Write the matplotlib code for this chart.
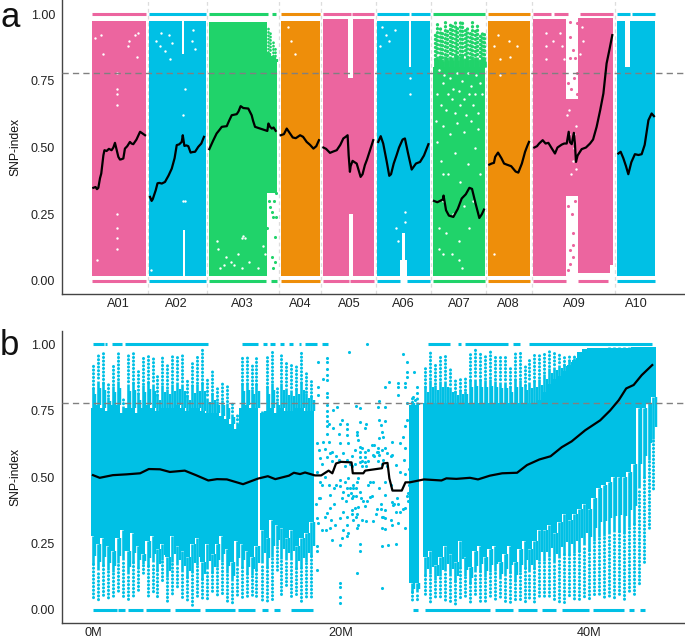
import numpy as np
import matplotlib
matplotlib.use("Agg")
import matplotlib.pyplot as plt

plt.rcParams['font.family'] = ['Liberation Sans', 'DejaVu Sans']

PINK, BLUE, GREEN, ORANGE = '#EC659F', '#00C0E5', '#20D36A', '#EE8E0A'
THRESHOLD = 0.778

# ---------- panel a: genome-wide ----------
chrom_names = ['A01', 'A02', 'A03', 'A04', 'A05', 'A06', 'A07', 'A08', 'A09', 'A10']
chrom_centres = [14.6, 47.2, 84.3, 117, 144.6, 174.9, 206.3, 233.7, 270.8, 305.6]
chrom_breaks = [31.3, 64.6, 104.9, 128.8, 159.3, 190.5, 221.5, 247, 293.8]

cloud_colour = [PINK, BLUE, BLUE, BLUE, BLUE, BLUE, GREEN, GREEN, ORANGE,
                PINK, PINK, PINK, PINK,
                BLUE, BLUE, BLUE, BLUE, BLUE, BLUE, BLUE,
                GREEN, ORANGE, PINK, PINK, PINK, PINK,
                BLUE, BLUE, BLUE]
cloud_start = [0.2, 32, 50.5, 51, 51.7, 52.4, 65.7, 98.1, 106,
               130, 144, 144.5, 146.4,
               160.3, 173, 174, 175.8, 176.8, 178.1, 179.2,
               191.7, 222.6, 248, 266.3, 273.2, 291,
               294.8, 299.4, 302.3]
cloud_end = [30.2, 50.5, 51, 51.7, 52.4, 63.9, 98.1, 103.8, 128.1,
             144, 144.5, 146.4, 158.6,
             173, 174, 175.8, 176.8, 178.1, 179.2, 189.9,
             220.8, 246.1, 266.3, 273.2, 291, 292.9,
             299.4, 302.3, 316.3]
cloud_top = [.975, .975, .85, .85, .975, .975, .97, .82, .975,
             .98, .76, .76, .98,
             .975, .975, .975, .975, .975, .80, .975,
             .80, .975, .98, .68, .985, .985,
             .975, .80, .975]
cloud_low = [.02, .02, .02, .19, .19, .02, .02, .33, .02,
             .02, .02, .25, .02,
             .02, .08, .18, .08, .02, .02, .02,
             .02, .02, .02, .32, .03, .06,
             .02, .02, .02]

top_strip_colour = [PINK, BLUE, GREEN, GREEN, ORANGE, PINK, PINK, BLUE, BLUE, GREEN, ORANGE,
                    PINK, PINK, PINK, BLUE, BLUE]
top_strip_start = [.2, 32.1, 65.7, 101, 106, 130, 146.2, 160.3, 179.2, 191.7, 222.6,
                   248, 259.5, 274.2, 294.8, 303.2]
top_strip_end = [30.2, 63.9, 99, 103.6, 128.1, 145.5, 158.6, 178.3, 189.9, 220.8, 246.1,
                 257.9, 267.6, 292.9, 302, 316.3]
low_strip_colour = [PINK, BLUE, GREEN, GREEN, ORANGE, PINK, PINK, BLUE, BLUE, GREEN, ORANGE,
                    PINK, PINK, BLUE]
low_strip_start = [.2, 32.1, 65.7, 100.7, 106, 130, 145, 160.3, 176.8, 191.7, 222.6,
                   248, 273.2, 294.8]
low_strip_end = [30.2, 63.9, 97.7, 103.8, 128.1, 144.5, 158.6, 173, 189.9, 220.8, 246.1,
                 266.3, 290, 316.3]

a07_x = [192.5, 193.9, 195.3, 196.7, 198.1, 199.5, 200.9, 202.3, 203.7, 205.1, 206.5,
         207.9, 209.3, 210.7, 212.1, 213.5, 214.9, 216.3, 217.7, 219.1, 220.3]
a07_top = [.93, .97, .96, .93, .97, .95, .97, .96, .98, .95, .97,
           .98, .94, .96, .93, .97, .95, .96, .92, .94, .93]

a03_x = [98.8, 100.2, 101.6, 103.0]
a03_top = [.95, .93, .90, .88]
a03_x_pts = [101.9, 100, 103.4, 102.8, 101, 102.8, 101.9, 98.1, 102.3, 99.6, 103.6, 101.2]
a03_y_pts = [.24, .2775, .24, .165, .09, .07, .05, .20, .30, .30, .33, .26]

a09_x_pts = [268.5, 272.3, 268.5, 270.3, 271.3, 268.5, 272.6, 267.4, 270.4, 268.5, 270.4, 268.5, 267.6, 270.4,
             269, 271, 272.4, 267.6, 269.5, 271.6]
a09_y_pts = [.97, .965, .915, .865, .835, .835, .78, .74, .18, .115, .09, .065, .04, .135,
             .72, .76, .70, .28, .25, .30]

# places inside the clouds where there are no SNPs
hole_x = [1.5, 5, 6, 13.8, 14, 14, 14, 14, 14.2, 20, 21, 24, 25, 26, 3, 13.9, 13.9,
          36, 38, 39, 41, 43, 44, 45, 56, 58, 57, 51, 51, 52, 33, 52,
          71, 75, 78, 84, 85, 86, 96, 97, 72, 74, 80, 84, 88, 93, 70, 82,
          110, 112, 114, 226, 228, 229, 229, 234, 235, 239, 226,
          163, 165, 167, 170, 162, 178.6, 178.6, 171, 172, 176, 176,
          255, 255, 255, 259, 263, 264, 265, 275, 276, 274, 267, 268, 271, 272, 270, 269, 271, 268, 272,
          195, 197, 198, 200, 201, 203, 205, 206, 208, 209, 211, 213, 215, 216, 218,
          194, 196, 199, 202, 204, 207, 210, 212, 214, 217, 219, 193, 197, 201, 205, 209, 213, 217,
          194, 196, 200, 204, 207, 211, 215, 218, 197, 203, 209, 214, 199, 206, 212, 195, 197, 195, 197, 202, 206, 208]
hole_y = [.91, .92, .85, .78, .70, .66, .72, .25, .20, .88, .90, .92, .84, .93, .08, .16, .12,
          .90, .88, .93, .86, .92, .83, .89, .90, .87, .94, .62, .30, .30, .04, .72,
          .12, .09, .07, .16, .17, .16, .13, .10, .05, .06, .06, .05, .07, .05, .15, .10,
          .95, .90, .85, .88, .92, .83, .77, .90, .84, .88, .10,
          .95, .92, .90, .94, .88, .76, .70, .20, .15, .22, .26,
          .93, .88, .83, .90, .93, .88, .83, .95, .90, .85, .62, .55, .50, .58, .45, .40, .55, .64, .42,
          .79, .74, .77, .70, .76, .72, .78, .71, .75, .68, .78, .73, .70, .77, .74,
          .70, .66, .64, .68, .63, .66, .62, .70, .66, .63, .70, .60, .58, .55, .59, .56, .60, .57,
          .52, .45, .40, .48, .37, .44, .50, .40, .30, .25, .28, .30, .18, .15, .20, .12, .40, .20, .10, .10, .08, .05]

line_x = [
 [.74, 2, 2.8, 3.55, 4.5, 5.2, 6.4, 7, 8.2, 9.5, 11, 12, 12.9, 13.9, 14.8, 15.7, 16.5, 17.6, 18.5, 19.8, 21.3, 22.2, 23.2, 25, 27, 28.5, 29.8],
 [32.6, 33.5, 34.1, 35.8, 36.8, 37.8, 39.2, 41, 43, 44.8, 46.4, 47.6, 49, 50.4, 51, 51.9, 53, 54.1, 55.4, 56.5, 57.9, 59.7, 61.4, 62.9],
 [65.9, 68, 70, 71.5, 72.9, 75.7, 77, 78.5, 81.3, 82.3, 83.5, 85, 87.8, 89.7, 90.5, 91.6, 94, 97.2, 98.5, 99.1, 100, 101, 102, 103.2],
 [106, 107.8, 109.4, 111, 112.8, 114.5, 116.9, 118.6, 120.6, 122.5, 124.4, 126, 127.5],
 [130, 131.5, 133.7, 135.5, 137.5, 139.5, 141.2, 142.5, 143.6, 144.2, 144.9, 145.3, 146.4, 147.5, 148.7, 150.9, 152, 153.3, 154.5, 156.2, 158],
 [160.8, 162.2, 163.6, 165.5, 167, 168, 169.5, 171.1, 172.5, 174.5, 175.8, 177.5, 179.6, 182, 184.3, 186.5, 189],
 [192.1, 194, 195.5, 197.2, 197.5, 198.9, 200.5, 203, 205.5, 207.7, 210, 212, 213.5, 215.5, 217.6, 219, 220.2],
 [223.2, 224.5, 225.8, 226.5, 228.1, 230, 231.5, 233, 235.5, 238, 239.5, 241.5, 243.3, 244.5, 245.5],
 [248.5, 250, 251.2, 253.2, 254.8, 256.4, 258, 260.1, 261.5, 263.9, 265.3, 266.7, 267.8, 268.5, 269.5, 270.7, 271.3, 271.9, 272.8, 275.1, 277.5, 279.8, 281.5, 283.5, 285.5, 287.3, 289.1, 290.8, 292.3],
 [295.7, 297, 298.5, 300, 301.3, 303, 305, 307, 308.8, 310.5, 312.6, 314.4, 315.7],
]
line_y = [
 [.349, .352, .344, .349, .385, .4025, .471, .49, .487, .495, .49, .50, .5175, .49, .465, .455, .456, .459, .496, .505, .521, .515, .5125, .53, .559, .552, .546],
 [.315, .30, .306, .34, .366, .3675, .365, .371, .395, .421, .46, .509, .512, .521, .546, .506, .508, .505, .481, .483, .484, .5025, .515, .54],
 [.494, .525, .5525, .565, .5775, .58, .60, .621, .625, .635, .655, .648, .646, .621, .60, .5775, .572, .565, .562, .59, .578, .571, .575, .5625],
 [.546, .55, .571, .555, .5375, .535, .546, .54, .521, .51, .496, .505, .5275],
 [.50, .495, .48, .485, .49, .51, .534, .54, .546, .47, .409, .43, .45, .445, .44, .39, .40, .434, .455, .49, .5275],
 [.521, .5425, .515, .45, .394, .40, .44, .471, .50, .53, .534, .48, .4175, .44, .446, .47, .5125],
 [.30, .295, .30, .306, .32, .265, .245, .24, .27, .309, .325, .349, .345, .29, .236, .25, .2675],
 [.436, .44, .4425, .465, .481, .46, .44, .436, .43, .41, .406, .44, .484, .505, .521],
 [.50, .505, .515, .5275, .515, .5175, .50, .4775, .50, .511, .515, .515, .559, .52, .5125, .555, .515, .446, .47, .494, .50, .515, .53, .5775, .64, .7025, .815, .87, .921],
 [.4775, .484, .46, .43, .40, .445, .475, .472, .475, .51, .6025, .6275, .6175],
]

# ---------- panel b: A09 ----------
left_x = [round(0.4 * i, 1) for i in range(33)] + [13.15, 13.65] + [round(14 + 0.4 * i, 1) for i in range(10)]
left_w = [.4] * 33 + [.3, .3] + [.4] * 10
left_core_top = [.76, .77, .76, .75, .77, .77, .74, .76, .76, .74, .76, .77, .76, .75, .76, .76, .76, .77, .76, .75,
                 .76, .76, .75, .74, .74, .74, .73, .72, .70, .68, .76, .77, .76, .76, .74, .75, .76, .74, .76, .75,
                 .75, .76, .76, .75, .75]
left_core_low = [.28, .25, .27, .24, .22, .27, .30, .22, .29, .24, .21, .26, .28, .23, .25, .20, .28, .24, .22, .20,
                 .25, .27, .18, .25, .21, .25, .28, .23, .18, .26, .25, .22, .20, .24, .30, .27, .34, .32, .31, .27,
                 .30, .24, .27, .29, .33]
left_comb_top = [.93, .97, .97, .86, .93, .97, .80, .96, .97, .90, .95, .96, .96, .88, .95, .92, .96, .96, .96, .87,
                 .94, .96, .98, .87, .90, .84, .86, .85, .78, .74, .96, .95, .92, .96, .76, .95, .97, .84, .97, .94,
                 .92, .92, .97, .90, .87]
left_comb_low = [.04, .03, .05, .04, .05, .06, .05, .03, .05, .07, .13, .05, .06, .05, .11, .03, .06, .08, .05, .03,
                 .02, .05, .04, .04, .06, .05, .06, .03, .02, .05, .05, .04, .05, .04, .03, .03, .03, .14, .05, .09,
                 .05, .06, .03, .05, .05]

right_x = [25.7, 26.1] + [round(26.8 + 0.4 * i, 1) for i in range(47)]
right_core_top = [.77, .77] + [.78] * 23 + [.79, .82, .85, .87, .88, .90, .92, .94, .97, .98, .985, .985, .985,
                                            .985, .985, .985, .985, .985, .985, .99, .99, .99, .99, .99]
right_core_low = [.10, .10, .20, .22, .17, .20, .24, .21, .18, .26, .20, .16, .22, .24, .20, .23, .24, .18, .21, .24, .18,
                  .23, .26, .23, .26, .30, .30, .32, .29, .33, .36, .34, .36, .38, .40, .38, .42, .46, .47, .48, .50,
                  .50, .50, .52, .55, .76, .76, .78, .80]
right_comb_top = [.80, .80, .91, .97, .93, .96, .96, .91, .87, .88, .88, .97, .98, .965, .965, .98, .96, .95, .95, .91, .97,
                  .97, .93, .95, .96, .965, .97, .98, .97, .97, .95, .96, .96, .97, .965, .985,
                  .985, .985, .985, .99, .99, .99, .99, .99, .99, .99, .99, .99, .99]
right_comb_low = [.03, .03, .05, .03, .04, .04, .03, .03, .02, .04, .04, .03, .05, .03, .03, .04, .03, .04, .03, .02, .03,
                  .04, .03, .04, .03, .04, .04, .05, .04, .03, .03, .05, .04, .03, .05, .04, .06, .05, .04, .05, .04,
                  .05, .04, .06, .05, .09, .18, .30, .45]

b_top_start = [0, 1, 1.5, 2.6, 12, 13.7, 14.3, 15.1, 15.8, 16.6, 17.1, 18.5, 27.04, 29.47, 30, 33.9, 34.8, 35.2]
b_top_end = [.85, 1.1, 2.3, 9.3, 13.3, 14, 14.7, 15.4, 16.1, 16.8, 18.1, 18.95, 28.8, 29.7, 33.5, 34.4, 34.85, 45.05]
b_low_start = [0, 2.05, 2.85, 4.3, 6.6, 9, 11.7, 13.6, 14.6, 16, 25.8, 26.8, 32.4, 34.3, 36.2, 37.8, 40.3, 43.2, 44.1]
b_low_end = [1.9, 2.6, 4.05, 6.2, 8.6, 11.45, 13.05, 14.15, 15.1, 17.75, 26.2, 32, 33.9, 35.8, 37.3, 40, 42.8, 43.6, 44.5]

sparse_x = [20.67, 24.97, 25.3, 25.3, 25.3, 25.9, 18.85, 18.85, 18.85, 18.85, 18.85, 18.85, 18.85, 18.85, 18.85, 18.85, 18.85, 18.85, 18.85,
            18.57, 18.17, 18.12, 18.12, 24.6, 24.6, 24.6, 25.2, 25.2, 23.87, 23.55, 26.1, 25.8, 26.1, 26,
            23.1, 22.97, 23.55, 21.2, 21.5, 25.3, 19.65, 19.37,
            20.05, 19.9, 20.5, 20.5, 21.5, 21.3, 22, 21.9, 23.1, 23.55, 23.2, 23.3, 25.3, 25.15, 19, 19.37, 19.8, 20.45,
            21.3, 21.35, 18.05, 18.2, 18.57, 19, 19.9, 20.6, 21.5, 21.1, 22.5, 23.1, 23.4, 23.55, 24.1, 24.75, 25, 25.15, 23, 19.25, 18.7,
            21.5, 21.5, 21.5, 21.9, 21.9, 21.9, 22, 20.2, 20.45, 18.3, 18.85, 19.15, 22.6, 22.9, 23.1, 23.4, 24.1, 24.4, 25.05, 25.6, 19.8, 21.1,
            18.05, 18.7, 19.9, 20.6, 21.4, 22.3, 22.6, 23.55, 24.75, 25.15,
            19.9, 20.2, 20.6, 20.85, 21.25, 21.5, 21, 20.45, 19.15, 19.4, 18.2, 22.3, 23.1, 23.55, 24.1, 24.5,
            18, 18.3, 19.4, 21.1, 21.4, 20.85, 23.2, 23.55, 24.2, 24.75, 25.15, 19.15, 18.9, 18.7, 19.9, 23.55, 23.3, 18.1, 18.15,
            20.45, 21.25, 21.4, 22, 22.6, 23.3, 23.55, 24.1, 24.6, 25.15, 20.2, 19.15, 20.05, 20.6, 20.45, 19.25, 19.9, 21.5, 21.5, 23.3, 23.8, 24.4,
            18.1, 18.1, 18.1, 21.25, 23.3, 19.9, 19.9, 19.9, 19.9, 22.07,
            21.7, 21.7, 21.7, 22.2, 22.2, 22.2, 22.7, 22.7, 23.0, 23.0, 23.3, 23.3, 23.7, 23.7, 24.0, 24.0,
            20.9, 20.9, 21.0, 21.2, 21.2, 20.3, 20.3, 20.7, 20.7, 19.6, 19.6, 19.3, 19.0, 18.5, 18.5, 18.3,
            21.6, 21.8, 21.0, 20.8, 20.4, 20.1, 21.9, 22.1, 22.5, 22.9, 23.2, 24.3, 24.6, 25.0, 25.4, 25.5, 25.5, 25.4,
            20.9, 21.2, 21.0, 20.5, 20.2, 21.3, 21.7, 19.5, 19.2, 18.8, 18.5, 22.8, 23.4, 24.0, 24.4, 25.3]
sparse_y = [.971, .961, .931, .896, .877, .893, .946, .931, .908, .885, .864, .815, .80, .77, .75, .73, .71, .69, .66,
            .87, .931, .84, .808, .852, .84, .808, .852, .84, .858, .84, .84, .80, .815, .79,
            .785, .765, .765, .768, .758, .777, .765, .753,
            .715, .70, .698, .679, .705, .67, .698, .684, .715, .711, .696, .67, .715, .69, .70, .684, .66, .658,
            .658, .639, .627, .60, .633, .633, .627, .627, .614, .60, .62, .645, .65, .61, .633, .627, .65, .61, .595, .595, .607,
            .595, .576, .558, .595, .576, .558, .54, .59, .564, .57, .576, .59, .583, .595, .583, .564, .583, .545, .564, .558, .564, .55,
            .52, .50, .49, .495, .495, .48, .48, .48, .52, .51,
            .465, .445, .432, .42, .48, .445, .457, .457, .432, .457, .42, .425, .457, .432, .407, .42,
            .40, .42, .40, .382, .388, .376, .40, .376, .395, .37, .382, .382, .363, .35, .347, .347, .35, .345, .326,
            .32, .307, .32, .333, .333, .307, .304, .32, .326, .307, .30, .309, .27, .29, .277, .263, .244, .247, .22, .24, .244, .248,
            .24, .22, .15, .14, .083, .10, .088, .05, .025, 1.0,
            .61, .56, .54, .60, .56, .47, .62, .58, .61, .56, .60, .55, .59, .54, .58, .47,
            .58, .54, .47, .46, .43, .54, .48, .55, .46, .58, .47, .56, .47, .55, .47, .48,
            .42, .41, .43, .44, .41, .42, .39, .41, .43, .38, .38, .40, .40, .38, .44, .53, .47, .41,
            .36, .35, .34, .35, .37, .36, .34, .32, .34, .30, .30, .36, .35, .34, .37, .43]

b_line_x = [0, .54, 1.6, 2.7, 3.8, 4.5, 5.4, 6.2, 7.4, 8.3, 9.3, 10, 10.8, 12.1, 13.3, 14.1, 14.7, 15.8, 16.2, 16.7, 17.1, 17.9,
            18.4, 19, 19.3, 19.4, 19.6, 20, 20.85, 20.95, 21.8, 21.95, 23.3, 23.4, 23.75, 23.9, 24.15, 24.9, 25.2, 25.55, 26.7,
            28.1, 28.5, 29.3, 30.4, 31.05, 32, 33, 34.2, 35, 36, 36.9, 37.8, 38.6, 39.7, 40.9, 41.7, 42.4, 43, 43.6, 44.25, 45.1]
b_line_y = [.507, .497, .507, .51, .514, .53, .529, .519, .524, .507, .487, .492, .491, .473, .494, .503, .492, .505, .516, .511, .517, .506,
            .506, .524, .514, .526, .551, .557, .555, .514, .514, .524, .533, .551, .553, .495, .449, .449, .48, .48, .491,
            .487, .495, .493, .497, .491, .505, .514, .516, .545, .566, .578, .612, .634, .676, .713, .75, .789, .833, .846, .883, .921]

# ---------- drawing ----------
fig = plt.figure(figsize=(6.85, 6.40), dpi=100)
W, H = 685.0, 640.0
ax_a = fig.add_axes([62 / W, (H - 294) / H, (685 - 62) / W, 294 / H])
ax_b = fig.add_axes([62 / W, (H - 623) / H, (685 - 62) / W, (623 - 331) / H])
DOTS = [(o, (0.05, 1.15)) for o in (0.0, 1.3, 2.3, 0.7, 3.1, 1.8, 0.3, 2.7, 1.1, 3.4, 2.0)]


def comb(ax, x, y0, y1, colour, lw=2.2, solid=0.45, side=0.2):
    """A column of SNPs: near-solid close to the cloud, separate dots to the tip."""
    x, y0, y1 = np.array(x), np.array(y0), np.array(y1)
    mid = y0 + (y1 - y0) * solid
    lc = ax.vlines(x, y0, mid, colors=colour, linewidths=lw * 0.85, zorder=2)
    lc2 = ax.vlines(x, mid, y1, colors=colour, linewidths=lw,
                    linestyles=[DOTS[i % len(DOTS)] for i in range(len(x))], zorder=2)
    lc2.set_capstyle('round')
    lc3 = ax.vlines(x + side, y0, y0 + (y1 - y0) * solid * 0.7, colors=colour, linewidths=lw * 0.8, zorder=2)


# panel a
for b in chrom_breaks:
    ax_a.axvline(b, color='#DDDDDD', lw=0.9, ls=(0, (3, 2.5)), zorder=0)
for c, s, e, t, l in zip(cloud_colour, cloud_start, cloud_end, cloud_top, cloud_low):
    ax_a.fill_between([s, e], [l, l], [t, t], color=c, lw=0, zorder=2)
for c, s, e in zip(top_strip_colour, top_strip_start, top_strip_end):
    ax_a.hlines(1.0, s, e, colors=c, linewidths=2.2, zorder=2)
for c, s, e in zip(low_strip_colour, low_strip_start, low_strip_end):
    ax_a.hlines(0.0, s, e, colors=c, linewidths=2.2, zorder=2)
comb(ax_a, a07_x, [.80] * len(a07_x), a07_top, GREEN, lw=2.4, solid=0.25, side=0.7)
comb(ax_a, a03_x, [.82] * 4, a03_top, GREEN, lw=2.0, solid=0.3, side=0.7)
ax_a.scatter(a03_x_pts, a03_y_pts, s=5, color=GREEN, lw=0, zorder=2)
ax_a.scatter(a09_x_pts, a09_y_pts, s=5, color=PINK, lw=0, zorder=2)
ax_a.scatter(hole_x, hole_y, s=3, color='white', lw=0, zorder=2.5)
ax_a.axhline(THRESHOLD, color='#808080', lw=1.0, ls=(0, (4.5, 3)), zorder=3)
for xs, ys in zip(line_x, line_y):
    ax_a.plot(xs, ys, color='black', lw=1.6, zorder=4, solid_joinstyle='round')
ax_a.set_xlim((62 - 92) / 1.78, (685 - 92) / 1.78)
ax_a.set_ylim(-0.0487, 1.0526)
ax_a.set_xticks(chrom_centres)
ax_a.set_xticklabels(chrom_names)

# panel b
ax_b.bar(left_x, np.array(left_core_top) - np.array(left_core_low), bottom=left_core_low, width=left_w,
         color=BLUE, lw=0, antialiased=False, zorder=2)
ax_b.bar(right_x, np.array(right_core_top) - np.array(right_core_low), bottom=right_core_low, width=0.4,
         color=BLUE, lw=0, antialiased=False, zorder=2)
comb(ax_b, left_x, left_core_top, left_comb_top, BLUE)
comb(ax_b, left_x, left_core_low, left_comb_low, BLUE)
comb(ax_b, right_x, right_core_top, right_comb_top, BLUE)
comb(ax_b, right_x, right_core_low, right_comb_low, BLUE)
ax_b.hlines([1.0] * len(b_top_start), b_top_start, b_top_end, colors=BLUE, linewidths=2.2, zorder=2)
ax_b.hlines([0.0] * len(b_low_start), b_low_start, b_low_end, colors=BLUE, linewidths=2.2, zorder=2)
ax_b.scatter(sparse_x, sparse_y, s=5, color=BLUE, lw=0, zorder=2)
ax_b.axhline(THRESHOLD, color='#808080', lw=1.0, ls=(0, (4.5, 3)), zorder=3)
ax_b.plot(b_line_x, b_line_y, color='black', lw=1.6, zorder=4, solid_joinstyle='round')
ax_b.set_xlim((62 - 93) / 12.4, (685 - 93) / 12.4)
ax_b.set_ylim(-0.0489, 1.049)
ax_b.set_xticks([0, 20, 40])
ax_b.set_xticklabels(['0M', '20M', '40M'])

for ax in (ax_a, ax_b):
    ax.set_yticks([0, .25, .5, .75, 1])
    ax.set_yticklabels(['0.00', '0.25', '0.50', '0.75', '1.00'])
    ax.set_ylabel('SNP-index', fontsize=8.7, color='#111111')
    ax.yaxis.set_label_coords((21 - 62) / (685 - 62), 0.5, transform=ax.transAxes)
    ax.tick_params(axis='y', length=0, labelsize=9, labelcolor='#222222', pad=5)
    ax.tick_params(axis='x', length=0, labelsize=9.2, labelcolor='#222222', pad=3.2)
    for s in ('top', 'right'):
        ax.spines[s].set_visible(False)
    for s in ('left', 'bottom'):
        ax.spines[s].set_color('#444444')
        ax.spines[s].set_linewidth(1.0)
    ax.set_facecolor('white')

fig.text(0 / W, 1 - 27 / H, 'a', fontsize=25, color='#111111', ha='left', va='baseline')
fig.text(0 / W, 1 - 355 / H, 'b', fontsize=25, color='#111111', ha='left', va='baseline')

fig.savefig('out.png', dpi=100, facecolor='white')
